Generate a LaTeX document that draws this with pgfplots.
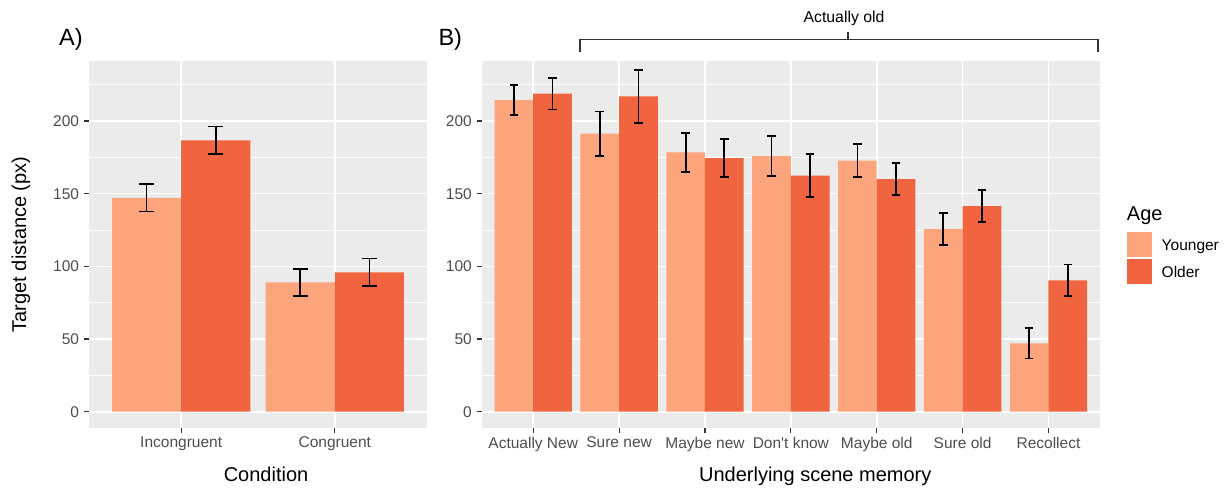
\documentclass[border=0pt]{standalone}
\usepackage{fontspec}
\setmainfont{Liberation Sans}
\usepackage{pgfplots}
\pgfplotsset{compat=1.18}
\definecolor{young}{HTML}{FCA47C}
\definecolor{old}{HTML}{F06440}
\definecolor{panelbg}{HTML}{EBEBEB}
\definecolor{tickgray}{HTML}{4D4D4D}
\definecolor{tickcol}{HTML}{333333}
\pgfplotsset{
  ggbase/.style={
    scale only axis, height=367.3pt, ymin=-11.2, ymax=241.5, xmin=0.4,
    axis lines=left, axis line style={draw=none,-},
    axis background/.style={fill=panelbg},
    ytick={0,50,100,150,200}, minor ytick={25,75,125,175,225},
    grid=both,
    major grid style={white, line width=1.6pt},
    minor grid style={white, line width=0.8pt},
    major tick length=5pt, minor tick length=0pt,
    tick align=outside,
    tick style={tickcol, line width=1.1pt},
    /pgf/number format/assume math mode=true,
    tick label style={font=\fontsize{15.5}{18}\selectfont, text=tickgray, inner sep=0pt},
    yticklabel style={anchor=east, xshift=-4.7pt},
    xticklabel style={anchor=north, yshift=-3.7pt},
    label style={font=\fontsize{20}{24}\selectfont},
    clip=false,
  },
  errA/.style={error bars/.cd, y dir=both, y explicit,
    error bar style={black, line width=1.7pt},
    error mark options={rotate=90, black, line width=1.7pt, mark size=7.7pt}},
  errB/.style={error bars/.cd, y dir=both, y explicit,
    error bar style={black, line width=1.7pt},
    error mark options={rotate=90, black, line width=1.7pt, mark size=4.3pt}},
}
\begin{document}
\begin{tikzpicture}
\useasboundingbox (0,0) rectangle (1230pt,490pt);
% Panel A
\begin{axis}[ggbase, at={(89pt,62pt)}, anchor=south west, width=338pt,
  xmax=2.6, xtick={1,2}, xticklabels={Incongruent,Congruent},
  ylabel={Target distance (px)},
  ylabel style={at={(axis description cs:-0.2012,0.5)}, anchor=center},
  xlabel={Condition},
  xlabel style={at={(axis description cs:0.5237,-0.1443)}, anchor=base},
]
\addplot[ybar, bar width=0.45, bar shift=0pt, fill=young, draw=none, errA]
  table[x=x, y=y, y error=e] {
x y e
0.775 147.2 9.4
1.775 89.0 9.4
};
\addplot[ybar, bar width=0.45, bar shift=0pt, fill=old, draw=none, errA]
  table[x=x, y=y, y error=e] {
x y e
1.225 186.7 9.6
2.225 95.9 9.6
};
\end{axis}
% Panel B
\begin{axis}[ggbase, at={(481.7pt,62pt)}, anchor=south west, width=618.3pt,
  xmax=7.6, xtick={1,2,3,4,5,6,7},
  xticklabels={Actually New,Sure new,Maybe new,Don\textquotesingle t know,Maybe old,Sure old,Recollect},
  xlabel={Underlying scene memory},
  xlabel style={at={(axis description cs:0.5395,-0.1443)}, anchor=base},
  legend style={at={(axis description cs:1.0432,0.5328)}, anchor=north west,
    draw=none, fill=none, inner sep=0pt, outer sep=0pt,
    font=\fontsize{15.5}{18}\selectfont, text=black,
    row sep=2.7pt, column sep=10pt,
    nodes={inner sep=0pt, anchor=base west}},
  legend cell align=left,
  legend image code/.code={\fill[#1] (0pt,-6.65pt) rectangle (25pt,17.85pt);},
]
\addplot[ybar, bar width=0.45, bar shift=0pt, fill=young, draw=none, errB]
  table[x=x, y=y, y error=e] {
x y e
0.775 214.4 10.5
1.775 191.3 15.3
2.775 178.5 13.4
3.775 175.9 13.7
4.775 172.7 11.3
5.775 125.7 11.0
6.775 47.1 10.4
};
\addlegendentry{Younger}
\addplot[ybar, bar width=0.45, bar shift=0pt, fill=old, draw=none, errB]
  table[x=x, y=y, y error=e] {
x y e
1.225 218.8 10.9
2.225 217.0 18.2
3.225 174.5 13.0
4.225 162.4 14.8
5.225 160.1 11.0
6.225 141.5 10.8
7.225 90.4 10.9
};
\addlegendentry{Older}
\end{axis}
% annotations
\node[anchor=base west, font=\fontsize{23.5}{28}\selectfont, inner sep=0pt] at (59pt,444.5pt) {A)};
\node[anchor=base west, font=\fontsize{23.5}{28}\selectfont, inner sep=0pt] at (438.3pt,444.5pt) {B)};
\draw[line width=1.7pt, tickcol] (580pt,437.7pt) -- (580pt,450.5pt) -- (1098pt,450.5pt) -- (1098pt,437.7pt);
\draw[line width=1.7pt, tickcol] (848pt,450.5pt) -- (848pt,458.3pt);
\node[anchor=base, font=\fontsize{15.8}{19}\selectfont, inner sep=0pt] at (844pt,467.3pt) {Actually old};
\node[anchor=base west, font=\fontsize{20}{24}\selectfont, inner sep=0pt] at (1126.7pt,269.3pt) {Age};
\end{tikzpicture}
\end{document}
